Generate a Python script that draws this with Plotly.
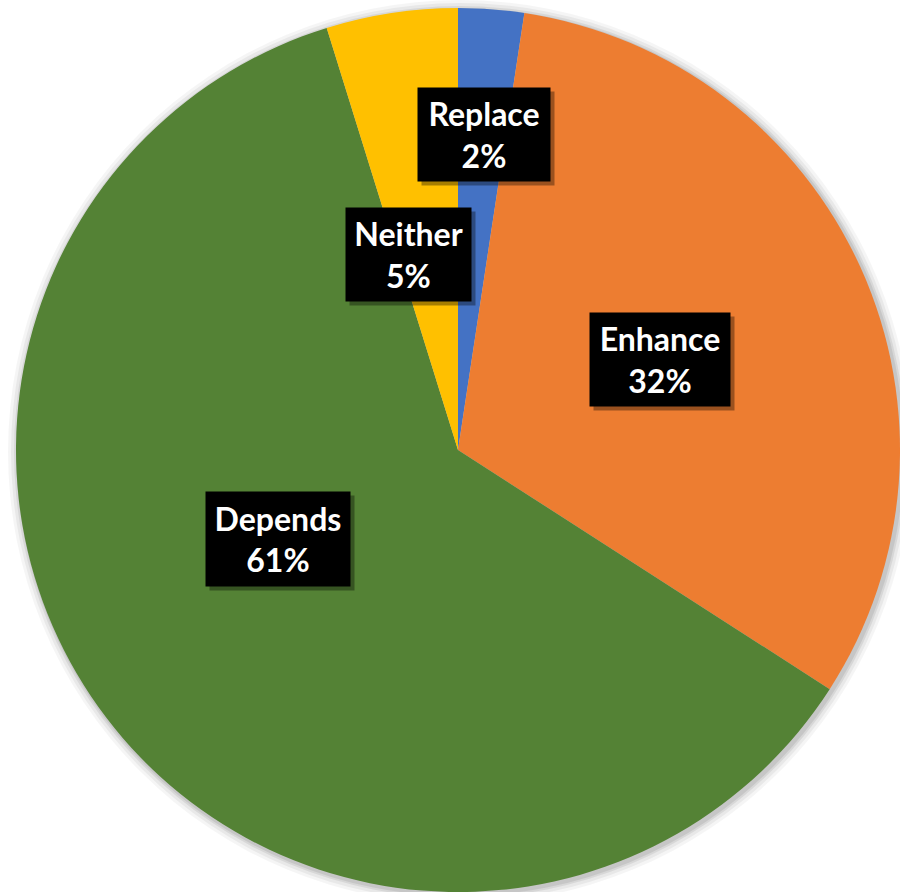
import plotly.graph_objects as go

categories = ["Replace", "Enhance", "Depends", "Neither"]
values = [2.4, 31.7, 61.1, 4.8]
colors = ["#4472C4", "#ED7D31", "#548235", "#FFC000"]

W, H = 900, 892
cx, cy, R = 458, 450, 442

# label box centres in pixels (layout only)
label_pos = {"Replace": (484, 134), "Enhance": (660, 359),
             "Depends": (278, 539), "Neither": (408, 254)}
box_size = {"Replace": (132, 93), "Enhance": (140, 93),
            "Depends": (144, 94), "Neither": (125, 93)}

total = sum(values)
fig = go.Figure()
fig.add_trace(go.Pie(
    labels=categories, values=values, sort=False, direction="clockwise",
    rotation=0, marker=dict(colors=colors, line=dict(width=0)),
    textinfo="none", hoverinfo="label+percent", showlegend=False,
    domain=dict(x=[(cx - R) / W, (cx + R) / W], y=[1 - (cy + R) / H, 1 - (cy - R) / H]),
))

# soft shadow around pie
shapes = []
for grow, op in [(10, 0.04), (7, 0.05), (4, 0.07), (2, 0.08)]:
    shapes.append(dict(type="circle", xref="paper", yref="paper", layer="below",
                       x0=(cx - R - grow + 2) / W, x1=(cx + R + grow + 2) / W,
                       y0=1 - (cy + R + grow + 2) / H, y1=1 - (cy - R - grow + 2) / H,
                       fillcolor=f"rgba(0,0,0,{op})", line=dict(width=0)))

annotations = []
for cat, v in zip(categories, values):
    px, py = label_pos[cat]
    bw, bh = box_size[cat]
    pct = round(v / total * 100)
    txt = f"<b>{cat}</b><br><b>{pct}%</b>"
    # shadow
    annotations.append(dict(x=(px + 4) / W, y=1 - (py + 4) / H, xref="paper", yref="paper",
                            xanchor="center", yanchor="middle",
                            text=" ", showarrow=False, width=bw, height=bh,
                            bgcolor="rgba(0,0,0,0.35)", borderpad=0))
    annotations.append(dict(x=px / W, y=1 - py / H, xref="paper", yref="paper",
                            xanchor="center", yanchor="middle",
                            text=txt, showarrow=False, width=bw, height=bh,
                            bgcolor="black", borderpad=0, align="center",
                            font=dict(family="Lato, Open Sans, sans-serif", size=32, color="white")))

fig.update_layout(width=W, height=H, margin=dict(l=0, r=0, t=0, b=0),
                  paper_bgcolor="white", plot_bgcolor="white",
                  shapes=shapes, annotations=annotations)
fig.write_html("out.html", config={"displayModeBar": False},
               post_script="document.body.style.margin='0';document.body.style.overflow='hidden';")
